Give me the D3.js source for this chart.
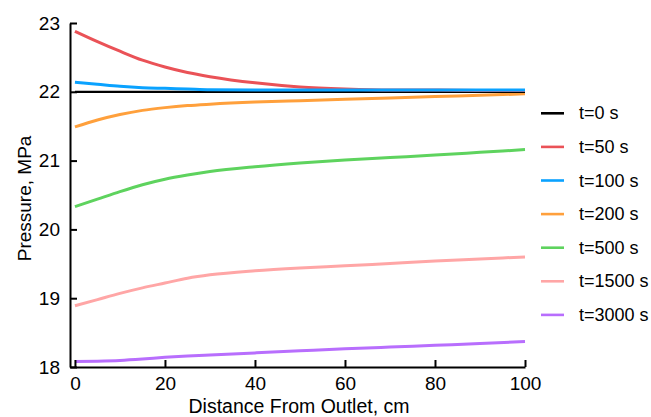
<!DOCTYPE html>
<html>
<head>
<meta charset="utf-8">
<script src="https://cdn.jsdelivr.net/npm/d3@7"></script>
<style>
  body { margin: 0; background: #fff; }
  svg { display: block; font-family: "Liberation Sans", Arial, sans-serif; }
</style>
</head>
<body>
<svg width="651" height="417"></svg>
<script>
const width = 651, height = 417;
const svg = d3.select("svg");

// distance from outlet (cm)
const distance = [0, 5, 10, 15, 20, 25, 30, 40, 50, 60, 70, 80, 90, 100];

const labels = ["t=0 s", "t=50 s", "t=100 s", "t=200 s", "t=500 s", "t=1500 s", "t=3000 s"];
const colors = ["#000000", "#ea5257", "#0aa2ff", "#ffa03c", "#5ed35e", "#ffa6a6", "#b86efd"];

// pressure (MPa), one array per time
const p0    = [22, 22, 22, 22, 22, 22, 22, 22, 22, 22, 22, 22, 22, 22];
const p50   = [22.88, 22.73, 22.59, 22.46, 22.36, 22.28, 22.22, 22.13, 22.07, 22.04, 22.025, 22.025, 22.02, 22.02];
const p100  = [22.14, 22.11, 22.08, 22.06, 22.05, 22.04, 22.03, 22.025, 22.025, 22.025, 22.025, 22.025, 22.025, 22.025];
const p200  = [21.49, 21.59, 21.67, 21.73, 21.77, 21.80, 21.82, 21.85, 21.87, 21.89, 21.91, 21.93, 21.95, 21.97];
const p500  = [20.33, 20.44, 20.55, 20.65, 20.73, 20.79, 20.84, 20.91, 20.965, 21.01, 21.045, 21.08, 21.12, 21.16];
const p1500 = [18.89, 18.98, 19.07, 19.15, 19.22, 19.29, 19.34, 19.40, 19.44, 19.47, 19.505, 19.54, 19.57, 19.60];
const p3000 = [18.08, 18.085, 18.095, 18.115, 18.14, 18.16, 18.175, 18.205, 18.235, 18.265, 18.29, 18.315, 18.34, 18.37];

const xTicks = [0, 20, 40, 60, 80, 100];
const yTicks = [18, 19, 20, 21, 22, 23];

const series = [p0, p50, p100, p200, p500, p1500, p3000].map((vals, i) => ({
  label: labels[i], color: colors[i],
  points: vals.map((v, j) => ({ x: distance[j], y: v }))
}));

const x = d3.scaleLinear().domain([-1.1, 100]).range([70, 525]);
const y = d3.scaleLinear().domain([18, 23]).range([367, 23]);

// lines (draw later series first so t=0 and t=100 sit on top like the reference)
const line = d3.line().x(d => x(d.x)).y(d => y(d.y)).curve(d3.curveMonotoneX);
const order = [6, 5, 4, 3, 0, 1, 2];
svg.append("g").selectAll("path")
  .data(order.map(i => series[i]))
  .join("path")
  .attr("fill", "none")
  .attr("stroke", d => d.color)
  .attr("stroke-width", d => d.label === "t=0 s" ? 2.2 : 3)
  .attr("d", d => line(d.points));

// axes
const xAxis = svg.append("g").attr("transform", `translate(0,${y(18)})`)
  .call(d3.axisBottom(x).tickValues(xTicks).tickSizeInner(-7).tickSizeOuter(0).tickPadding(10).tickFormat(d3.format("d")));
const yAxis = svg.append("g").attr("transform", `translate(${x(-1.1)},0)`)
  .call(d3.axisLeft(y).tickValues(yTicks).tickSizeInner(-7).tickSizeOuter(0).tickPadding(10).tickFormat(d3.format("d")));

[xAxis, yAxis].forEach(g => {
  g.select(".domain").attr("stroke", "#000").attr("stroke-width", 2);
  g.selectAll(".tick line").attr("stroke", "#000").attr("stroke-width", 2);
  g.selectAll(".tick text").attr("fill", "#000").style("font-size", "19px");
});

svg.append("text")
  .attr("x", 299).attr("y", 413)
  .attr("text-anchor", "middle")
  .style("font-size", "19.5px")
  .text("Distance From Outlet, cm");

svg.append("text")
  .attr("transform", `translate(31,${y(20.45)}) rotate(-90)`)
  .attr("text-anchor", "middle")
  .style("font-size", "19px")
  .text("Pressure, MPa");

// legend
const legend = svg.append("g").selectAll("g")
  .data(series)
  .join("g")
  .attr("transform", (d, i) => `translate(541,${113.3 + i * 33.6})`);
legend.append("line")
  .attr("x1", 0).attr("x2", 23)
  .attr("stroke", d => d.color)
  .attr("stroke-width", 2.6);
legend.append("text")
  .attr("x", 38).attr("y", 6)
  .style("font-size", "18px")
  .text(d => d.label);
</script>
</body>
</html>
